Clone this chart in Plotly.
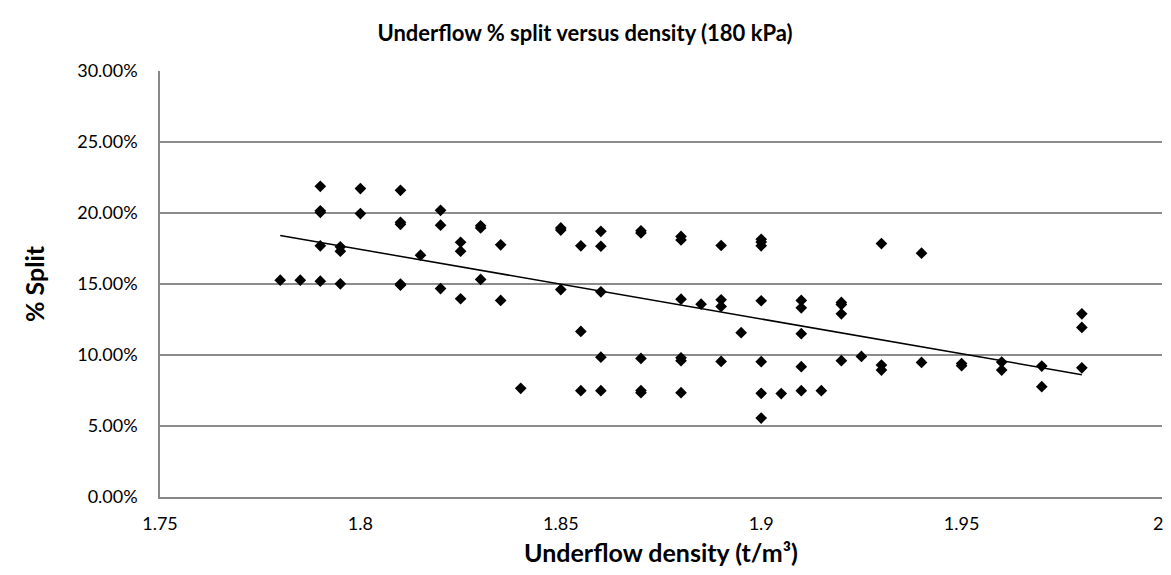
import numpy as np
import plotly.graph_objects as go

# Underflow density (t/m3) and % split readings
density = [
    1.78, 1.785, 1.79, 1.79, 1.79, 1.79, 1.79,
    1.795, 1.795, 1.795,
    1.80, 1.80,
    1.81, 1.81, 1.81, 1.81, 1.81,
    1.815,
    1.82, 1.82, 1.82,
    1.825, 1.825, 1.825,
    1.83, 1.83, 1.83,
    1.835, 1.835,
    1.84,
    1.85, 1.85, 1.85,
    1.855, 1.855, 1.855,
    1.86, 1.86, 1.86, 1.86, 1.86,
    1.87, 1.87, 1.87, 1.87, 1.87,
    1.88, 1.88, 1.88, 1.88, 1.88, 1.88,
    1.885,
    1.89, 1.89, 1.89, 1.89,
    1.895,
    1.90, 1.90, 1.90, 1.90, 1.90, 1.90, 1.90,
    1.905,
    1.91, 1.91, 1.91, 1.91, 1.91,
    1.915,
    1.92, 1.92, 1.92, 1.92,
    1.925,
    1.93, 1.93, 1.93,
    1.94, 1.94,
    1.95, 1.95,
    1.96, 1.96,
    1.97, 1.97,
    1.98, 1.98, 1.98,
]
split_pct = [
    15.27, 15.27, 21.88, 20.15, 20.05, 17.69, 15.20,
    17.62, 17.31, 15.01,
    21.72, 19.96,
    21.60, 19.35, 19.20, 15.00, 14.92,
    17.03,
    20.19, 19.14, 14.68,
    17.94, 17.31, 13.96,
    19.10, 18.95, 15.32,
    17.76, 13.84,
    7.65,
    18.95, 18.80, 14.61,
    17.69, 11.66, 7.49,
    18.71, 17.66, 14.45, 9.85, 7.49,
    18.75, 18.60, 9.76, 7.50, 7.35,
    18.35, 18.10, 13.93, 9.80, 9.60, 7.35,
    13.58,
    17.71, 13.89, 13.42, 9.55,
    11.57,
    18.15, 17.95, 17.69, 13.82, 9.53, 7.30, 5.56,
    7.28,
    13.84, 13.32, 11.50, 9.18, 7.49,
    7.49,
    13.70, 13.55, 12.90, 9.60,
    9.90,
    17.85, 9.29, 8.94,
    17.17, 9.48,
    9.40, 9.25,
    9.50, 8.94,
    9.22, 7.77,
    12.90, 11.94, 9.10,
]

x_ticks = [1.75, 1.8, 1.85, 1.9, 1.95, 2.0]
x_tick_labels = ["1.75", "1.8", "1.85", "1.9", "1.95", "2"]
y_ticks = [0, 0.05, 0.10, 0.15, 0.20, 0.25, 0.30]

x = np.array(density)
y = np.array(split_pct) / 100.0

# Linear trendline
slope, intercept = np.polyfit(x, y, 1)
tx = np.array([x.min(), x.max()])
ty = slope * tx + intercept

fig = go.Figure()
fig.add_trace(go.Scatter(
    x=x, y=y, mode="markers",
    marker=dict(symbol="diamond", size=9, color="black"),
    showlegend=False, hoverinfo="x+y",
))
fig.add_trace(go.Scatter(
    x=tx, y=ty, mode="lines",
    line=dict(color="black", width=1.5),
    showlegend=False, hoverinfo="skip",
))

font_family = "Lato, 'Open Sans', Arial, sans-serif"
tick_size = 18

W, H = 1155, 559  # page body has an 8px default margin on every side

# last x tick label is drawn as an annotation so it stays inside the page
ticktext = x_tick_labels[:-1] + [""]

fig.add_annotation(
    x=x_ticks[-1], y=0, xref="x", yref="y",
    text=x_tick_labels[-1], showarrow=False,
    xanchor="center", yanchor="top", xshift=-4, yshift=-13,
    font=dict(family=font_family, size=tick_size, color="black"),
)

fig.update_layout(
    width=W, height=H,
    paper_bgcolor="white", plot_bgcolor="white",
    margin=dict(l=152, r=1, t=63, b=70, autoexpand=False),
    title=dict(
        text="<b>Underflow % split versus density (180 kPa)</b>",
        x=577 / W, xanchor="center", y=1 - 25 / H, yanchor="middle",
        font=dict(family=font_family, size=22, color="black"),
    ),
    font=dict(family=font_family, color="black"),
    xaxis=dict(
        range=[1.75, 2.0],
        tickvals=x_ticks, ticktext=ticktext,
        tickfont=dict(size=tick_size, color="black"),
        showgrid=False, zeroline=False,
        showline=True, linecolor="#888888", linewidth=1.5,
        ticks="", ticklabelstandoff=10,
        title=dict(text="<b>Underflow density (t/m³)</b>",
                   font=dict(size=25, color="black"), standoff=13),
    ),
    yaxis=dict(
        range=[0, 0.30],
        tickvals=y_ticks, tickformat=".2%",
        tickfont=dict(size=tick_size, color="black"),
        showgrid=True, gridcolor="#8c8c8c", gridwidth=1.5,
        zeroline=False,
        showline=True, linecolor="#888888", linewidth=1.5,
        ticks="", ticklabelstandoff=17,
        title=dict(text="<b>% Split</b>",
                   font=dict(size=25, color="black"), standoff=25),
    ),
)

fig.write_html("out.html")
